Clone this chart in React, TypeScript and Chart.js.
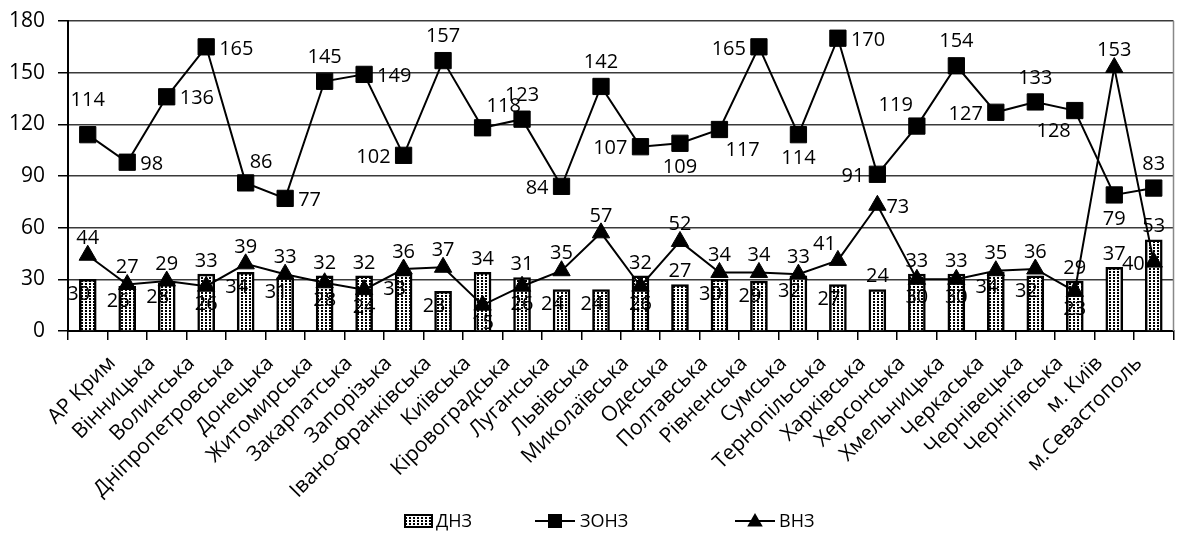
import React, { useEffect, useRef } from 'react';
import { Chart, registerables } from 'chart.js';

Chart.register(...registerables);

// ---- data ----
const categories: string[] = [
  '', 'АР Крим', 'Вінницька', 'Волинська', 'Дніпропетровська', 'Донецька', 'Житомирська',
  'Закарпатська', 'Запорізька', 'Івано-Франківська', 'Київська', 'Кіровоградська', 'Луганська',
  'Львівська', 'Миколаївська', 'Одеська', 'Полтавська', 'Рівненська', 'Сумська', 'Тернопільська',
  'Харківська', 'Херсонська', 'Хмельницька', 'Черкаська', 'Чернівецька', 'Чернігівська',
  'м. Київ', 'м.Севастополь',
];

const dnz: number[] = [30, 26, 28, 33, 34, 31, 32, 32, 33, 23, 34, 31, 24, 24, 32, 27, 30, 29, 32, 27, 24, 33, 33, 34, 32, 29, 37, 53];
const zonz: number[] = [114, 98, 136, 165, 86, 77, 145, 149, 102, 157, 118, 123, 84, 142, 107, 109, 117, 165, 114, 170, 91, 119, 154, 127, 133, 128, 79, 83];
const vnz: number[] = [44, 27, 29, 26, 39, 33, 28, 24, 36, 37, 15, 26, 35, 57, 26, 52, 34, 34, 33, 41, 73, 30, 30, 35, 36, 23, 153, 40];

const yTicks: number[] = [0, 30, 60, 90, 120, 150, 180];

const seriesNames = { dnz: 'ДНЗ', zonz: 'ЗОНЗ', vnz: 'ВНЗ' };

// label placement codes (a = above, b = below, l = left, r = right, i = inside-left, combos)
const dnzLabelPos: string[] = ['i', 'i', 'i', 'a', 'i', 'i', 'a', 'a', 'i', 'i', 'a', 'a', 'i', 'i', 'a', 'a', 'i', 'i', 'i', 'i', 'a', 'a', 'a', 'i', 'i', 'a', 'a', 'a'];
const zonzLabelPos: string[] = ['A', 'r', 'r', 'r', 'ar', 'r', 'a', 'r', 'l', 'a', 'ar', 'a', 'l', 'a', 'l', 'b', 'br', 'l', 'b', 'r', 'l', 'al', 'a', 'l', 'a', 'bl', 'b', 'a'];
const vnzLabelPos: string[] = ['a', 'a', 'a', 'b', 'a', 'a', 'b', 'b', 'a', 'a', 'b', 'b', 'a', 'a', 'b', 'a', 'a', 'a', 'a', 'al', 'r', 'b', 'b', 'a', 'a', 'b', 'a', 'l'];

const FONT = '"Open Sans", "Noto Sans", sans-serif';

function makePatternCanvas(): HTMLCanvasElement {
  const c = document.createElement('canvas');
  c.width = 4;
  c.height = 3;
  const g = c.getContext('2d')!;
  g.fillStyle = '#fff';
  g.fillRect(0, 0, 4, 3);
  g.fillStyle = '#000';
  g.fillRect(1, 1, 2, 2);
  return c;
}

const offsets: Record<string, Record<string, [number, number, CanvasTextAlign]>> = {
  line1: {
    A: [0, -34, 'center'],
    a: [0, -24, 'center'], b: [0, 24, 'center'], l: [-13, 2, 'right'], r: [13, 2, 'left'],
    ar: [4, -21, 'left'], al: [-4, -21, 'right'], br: [6, 21, 'left'], bl: [-4, 21, 'right'],
  },
  line2: {
    a: [0, -17, 'center'], b: [0, 18, 'center'], l: [-9, 2, 'right'], r: [9, 2, 'left'],
    al: [-2, -16, 'right'], ar: [2, -16, 'left'],
  },
  bar: {
    a: [0, -13, 'center'], i: [-9, 15, 'center'],
  },
};

const valueLabelPlugin = {
  id: 'valueLabels',
  afterDatasetsDraw(chart: any) {
    const ctx: CanvasRenderingContext2D = chart.ctx;
    ctx.save();
    ctx.font = `20px ${FONT}`;
    ctx.fillStyle = '#000';
    ctx.textBaseline = 'middle';
    chart.data.datasets.forEach((ds: any, di: number) => {
      const meta = chart.getDatasetMeta(di);
      const table = offsets[ds.labelKind];
      meta.data.forEach((el: any, i: number) => {
        const code = ds.labelPos[i];
        const o = table[code] || table.a;
        ctx.textAlign = o[2];
        ctx.fillText(String(ds.data[i]), el.x + o[0], el.y + o[1]);
      });
    });
    ctx.restore();
  },
};

const borderPlugin = {
  id: 'rightBorder',
  beforeDatasetsDraw(chart: any) {
    const { ctx, chartArea } = chart;
    ctx.save();
    ctx.strokeStyle = '#888';
    ctx.lineWidth = 1.5;
    ctx.beginPath();
    ctx.moveTo(chartArea.right, chartArea.top);
    ctx.lineTo(chartArea.right, chartArea.bottom);
    ctx.stroke();
    ctx.restore();
  },
};

function drawTriangle(ctx: CanvasRenderingContext2D, x: number, y: number, r: number) {
  ctx.beginPath();
  ctx.moveTo(x, y - r);
  ctx.lineTo(x + r * 0.866, y + r / 2);
  ctx.lineTo(x - r * 0.866, y + r / 2);
  ctx.closePath();
  ctx.fill();
}

const legendPlugin = {
  id: 'customLegend',
  afterDraw(chart: any) {
    const ctx: CanvasRenderingContext2D = chart.ctx;
    const cx = chart.width / 2;
    const y = chart.height - 12;
    ctx.save();
    ctx.font = `18px ${FONT}`;
    ctx.fillStyle = '#000';
    ctx.textBaseline = 'middle';
    ctx.textAlign = 'left';
    // ДНЗ box
    const pat = ctx.createPattern(makePatternCanvas(), 'repeat');
    ctx.fillStyle = pat as any;
    ctx.fillRect(cx - 188, y - 6, 27, 12);
    ctx.strokeStyle = '#000';
    ctx.lineWidth = 2;
    ctx.strokeRect(cx - 188, y - 6, 27, 12);
    ctx.fillStyle = '#000';
    ctx.fillText(seriesNames.dnz, cx - 157, y + 1);
    // ЗОНЗ
    ctx.beginPath();
    ctx.moveTo(cx - 58, y);
    ctx.lineTo(cx - 18, y);
    ctx.stroke();
    ctx.fillRect(cx - 38 - 7, y - 7, 14, 14);
    ctx.fillText(seriesNames.zonz, cx - 13, y + 1);
    // ВНЗ
    ctx.beginPath();
    ctx.moveTo(cx + 142, y);
    ctx.lineTo(cx + 182, y);
    ctx.stroke();
    drawTriangle(ctx, cx + 162, y + 1, 9);
    ctx.fillText(seriesNames.vnz, cx + 186, y + 1);
    ctx.restore();
  },
};

export default function App() {
  const ref = useRef<HTMLCanvasElement | null>(null);

  useEffect(() => {
    document.body.style.margin = '0';
    const canvas = ref.current!;
    const pattern = canvas.getContext('2d')!.createPattern(makePatternCanvas(), 'repeat');
    const yFont = { family: FONT, size: 21, lineHeight: 0.7 };
    const xFont = { family: FONT, size: 21 };

    const chart = new Chart(canvas, {
      type: 'bar',
      data: {
        labels: categories,
        datasets: [
          {
            type: 'line',
            label: seriesNames.zonz,
            data: zonz,
            borderColor: '#000',
            borderWidth: 2,
            pointStyle: 'rect',
            pointRadius: 11.5,
            pointBackgroundColor: '#000',
            pointBorderColor: '#000',
            pointBorderWidth: 1,
            order: 1,
            labelKind: 'line1',
            labelPos: zonzLabelPos,
          } as any,
          {
            type: 'line',
            label: seriesNames.vnz,
            data: vnz,
            borderColor: '#000',
            borderWidth: 2,
            pointStyle: 'triangle',
            pointRadius: 10,
            pointBackgroundColor: '#000',
            pointBorderColor: '#000',
            pointBorderWidth: 1,
            order: 2,
            labelKind: 'line2',
            labelPos: vnzLabelPos,
          } as any,
          {
            type: 'bar',
            label: seriesNames.dnz,
            data: dnz,
            backgroundColor: pattern as any,
            borderColor: '#000',
            borderWidth: 2.5,
            barThickness: 17,
            order: 3,
            labelKind: 'bar',
            labelPos: dnzLabelPos,
          } as any,
        ],
      },
      options: {
        animation: false,
        responsive: false,
        layout: { padding: { top: 21, right: 4, bottom: 0, left: 0 } },
        plugins: { legend: { display: false }, tooltip: { enabled: false } },
        scales: {
          x: {
            offset: true,
            grid: { offset: true, drawOnChartArea: false, drawTicks: true, tickLength: 9, tickColor: '#000', lineWidth: 1.5, tickWidth: 1.5 },
            border: { color: '#000', width: 2 },
            ticks: { autoSkip: false, maxRotation: 45, minRotation: 45, font: xFont, color: '#000', padding: 11, labelOffset: -15 },
            afterFit: (s: any) => { s.height = 202; },
          },
          y: {
            min: yTicks[0],
            max: yTicks[yTicks.length - 1],
            afterBuildTicks: (s: any) => { s.ticks = yTicks.map((v) => ({ value: v })); },
            ticks: { font: yFont, color: '#000', padding: 13 },
            grid: { color: '#3a3a3a', lineWidth: 1.5, tickLength: 10, tickColor: '#000' },
            border: { color: '#000', width: 2 },
            afterFit: (s: any) => { s.width = 68; },
          },
        },
      } as any,
      plugins: [borderPlugin, valueLabelPlugin, legendPlugin],
    });

    if ((document as any).fonts && (document as any).fonts.load) {
      (document as any).fonts.load(`20px "Open Sans"`).then(() => chart.update('none')).catch(() => {});
    }

    return () => {
      chart.destroy();
    };
  }, []);

  return (
    <div style={{ width: 1186, height: 533 }}>
      <canvas ref={ref} width={1186} height={533} style={{ display: 'block', width: 1186, height: 533 }} />
    </div>
  );
}
